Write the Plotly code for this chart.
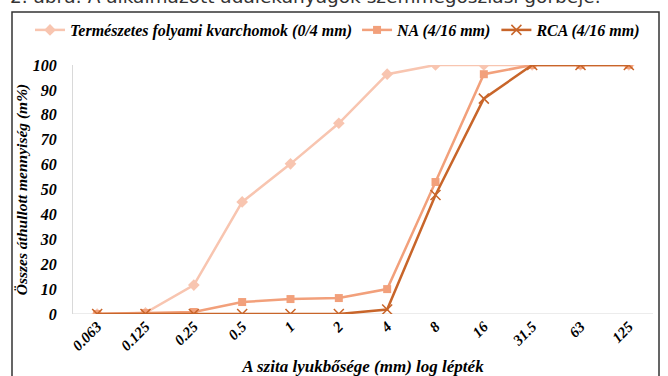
import plotly.graph_objects as go

sieve = ["0.063", "0.125", "0.25", "0.5", "1", "2", "4", "8", "16", "31.5", "63", "125"]
termeszetes = [0, 0.5, 11.6, 45, 60.3, 76.6, 96.3, 100, 100, 100, 100, 100]
na = [0, 0.4, 0.8, 4.8, 6.0, 6.4, 10.0, 53, 96.3, 100, 100, 100]
rca = [0, 0, 0, 0, 0, 0, 1.8, 47.8, 86.5, 100, 100, 100]

names = ["Természetes folyami kvarchomok (0/4 mm)", "NA (4/16 mm)", "RCA (4/16 mm)"]
colors = ["#F8C5B0", "#F2A07B", "#C8652A"]

serif = "Liberation Serif"
bi = dict(family=serif, color="black", weight="bold", style="italic")

fig = go.Figure()
fig.add_trace(go.Scatter(x=sieve, y=termeszetes, name=names[0], mode="lines+markers",
                         line=dict(color=colors[0], width=2.5),
                         marker=dict(symbol="diamond", size=9, color=colors[0])))
fig.add_trace(go.Scatter(x=sieve, y=na, name=names[1], mode="lines+markers",
                         line=dict(color=colors[1], width=2.5),
                         marker=dict(symbol="square", size=8, color=colors[1])))
fig.add_trace(go.Scatter(x=sieve, y=rca, name=names[2], mode="lines+markers",
                         line=dict(color=colors[2], width=2.5),
                         marker=dict(symbol="x-thin-open", size=10,
                                     line=dict(color=colors[2], width=1.5))))

fig.update_layout(
    width=668, height=376,
    margin=dict(l=73, r=15, t=65, b=62, autoexpand=False),
    paper_bgcolor="white", plot_bgcolor="white",
    font=dict(family=serif, color="black"),
    showlegend=True,
    legend=dict(orientation="h", x=(30 - 73) / 580, xanchor="left",
                y=(314 - 30) / 249, yanchor="middle",
                font=dict(size=16, **bi),
                itemwidth=30, tracegroupgap=0, bgcolor="rgba(0,0,0,0)"),
    xaxis=dict(type="category", range=[-0.5, 11.5], showgrid=False, zeroline=False,
               showline=False, ticks="", tickangle=-45,
               tickfont=dict(size=15, **bi),
               title=dict(text="A szita lyukbősége (mm) log lépték", standoff=9,
                          font=dict(size=17, **bi))),
    yaxis=dict(range=[0, 100], dtick=10, showgrid=False, zeroline=False,
               showline=True, linecolor="#D9D9D9", linewidth=1, ticks="",
               ticklabelstandoff=12,
               tickfont=dict(size=16, **bi),
               title=dict(text="Összes áthullott mennyiség (m%)", standoff=1,
                          font=dict(size=15.5, **bi))),
)

# x-axis baseline (light gray) at 0
fig.add_shape(type="line", xref="paper", yref="y", x0=0, x1=1, y0=0, y1=0,
              line=dict(color="#D9D9D9", width=1), layer="below")
# outer frame
fig.add_shape(type="rect", xref="paper", yref="paper",
              x0=(12 - 73) / 580, x1=(659 - 73) / 580,
              y0=(314 - 390) / 249, y1=(314 - 12) / 249,
              line=dict(color="#333333", width=1.5))
# cut-off caption at top
fig.add_annotation(text="2. ábra: A alkalmazott adalékanyagok szemmegoszlási görbéje.",
                   xref="paper", yref="paper", x=(8 - 73) / 580, xanchor="left",
                   y=(314 - 9) / 249, yanchor="bottom", showarrow=False,
                   font=dict(family="DejaVu Sans", size=18.5, color="#333333"))

fig.write_html("out.html")
